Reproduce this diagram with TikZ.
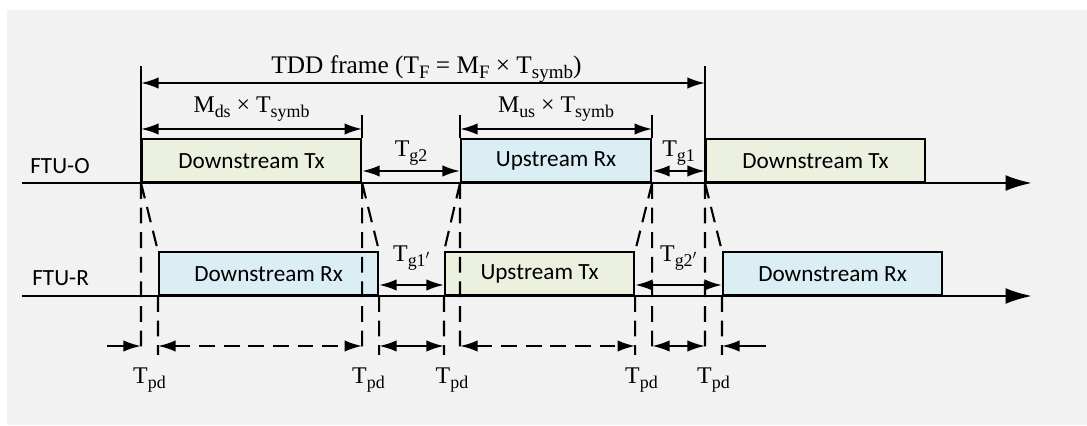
\documentclass[tikz,border=0pt]{standalone}
\usepackage{fontspec}
\setmainfont{Liberation Serif}
\newfontfamily\slotfont{Carlito}
\usepackage{tikz}
\usetikzlibrary{arrows.meta,positioning,calc}
\definecolor{PanelGray}{HTML}{F2F2F2}
\definecolor{TxGreen}{HTML}{EBF1DE}
\definecolor{RxBlue}{HTML}{DAEEF3}
\newcommand{\lo}[1]{\raisebox{-0.42ex}{\scalebox{0.75}{#1}}}

\begin{document}
\begin{tikzpicture}[x=2mm,y=2mm,
  >={Latex[length=10pt,width=6.5pt]},
  slot/.style={draw,line width=1.2pt,anchor=south west,inner sep=0pt,
    minimum height=8.5mm,font=\slotfont\fontsize{13.2}{15}\selectfont},
  txslot/.style={slot,fill=TxGreen},
  rxslot/.style={slot,fill=RxBlue},
  timeline/.style={line width=1.4pt,-{Latex[length=15pt,width=9pt]}},
  dim/.style={<->,line width=1.2pt},
  dimdash/.style={dim,dash pattern=on 9pt off 5pt},
  drop/.style={line width=1.2pt,dash pattern=on 9pt off 5pt},
  lbl/.style={font=\fontsize{13.6}{15}\selectfont,inner sep=0pt,anchor=base},
  framelbl/.style={lbl,font=\fontsize{14.4}{16}\selectfont},
  axisname/.style={font=\slotfont\fontsize{13.2}{15}\selectfont,inner sep=0pt,anchor=base west}]
  \useasboundingbox (0,0) rectangle (108.7,42.6);
  \fill[PanelGray] (0.7,0.1) rectangle (108.7,41.6);

  % rows of the dimension arrows
  \coordinate (rowF) at (0,34.3);
  \coordinate (rowM) at (0,29.7);
  \coordinate (rowGO) at (0,25.5);
  \coordinate (rowGR) at (0,14.1);
  \coordinate (rowPd) at (0,8.0);
  \coordinate (rowDrop) at (0,7.1);

  % FTU-O slots
  \node[txslot,minimum width=43.8mm] (dtxO) at (14.1,24.3) {Downstream Tx};
  \node[rxslot,minimum width=38mm] (urxO) at (46.0,24.3) {Upstream Rx};
  \node[txslot,minimum width=43.8mm] (dtxOb) at (70.5,24.3) {Downstream Tx};
  % FTU-R slots
  \node[rxslot,minimum width=43.8mm] (drxR) at (15.8,13.0) {Downstream Rx};
  \node[txslot,minimum width=37.8mm] (utxR) at (44.4,13.0) {Upstream Tx};
  \node[rxslot,minimum width=43.8mm] (drxRb) at (72.2,13.0) {Downstream Rx};

  \coordinate (oStart) at (2.2,24.3);
  \coordinate (oEnd) at (103.2,24.3);
  \coordinate (rStart) at (2.2,13.0);
  \coordinate (rEnd) at (103.2,13.0);
  \draw[timeline] (oStart) -- (oEnd);
  \draw[timeline] (rStart) -- (rEnd);
  \node[axisname] (ftuO) at (3.0,25.2) {FTU-O};
  \node[axisname] (ftuR) at (3.2,14.0) {FTU-R};

  % frame limits and slot ticks
  \coordinate (frameL) at (14.1,36.0);
  \coordinate (frameR) at (70.5,36.0);
  \draw[line width=1.2pt] (dtxO.south west) -- (frameL);
  \draw[line width=1.2pt] (dtxOb.south west) -- (frameR);
  \draw[line width=1.2pt] (dtxO.north east) -- ++(0,2.3)
    (urxO.north west) -- ++(0,2.3) (urxO.north east) -- ++(0,2.3);

  \draw[dim] (frameL |- rowF) -- (frameR |- rowF)
    node[framelbl,midway,xshift=0.7mm,yshift=1.8mm] (frameLbl) {TDD frame (T\lo{F} = M\lo{F} × T\lo{symb})};
  \draw[dim] (dtxO.north west |- rowM) -- (dtxO.north east |- rowM)
    node[lbl,midway,yshift=3.2mm] (mdsLbl) {M\lo{ds} × T\lo{symb}};
  \draw[dim] (urxO.north west |- rowM) -- (urxO.north east |- rowM)
    node[lbl,midway,yshift=3.2mm] (musLbl) {M\lo{us} × T\lo{symb}};
  \draw[dim] (dtxO.south east |- rowGO) -- (urxO.south west |- rowGO)
    node[lbl,midway,yshift=2.8mm] (tgTwoLbl) {T\lo{g2}};
  \draw[dim] (urxO.south east |- rowGO) -- (dtxOb.south west |- rowGO)
    node[lbl,midway,yshift=2.8mm] (tgOneLbl) {T\lo{g1}};
  \draw[dim] (drxR.south east |- rowGR) -- (utxR.south west |- rowGR)
    node[lbl,midway,yshift=4.6mm] (tgOnepLbl) {T\lo{g1$'$}};
  \draw[dim] (utxR.south east |- rowGR) -- (drxRb.south west |- rowGR)
    node[lbl,midway,yshift=4.6mm] (tgTwopLbl) {T\lo{g2$'$}};

  % propagation delay lines
  \draw[drop] (dtxO.south west) -- (dtxO.south west |- rowDrop)
    (dtxO.south west) -- (drxR.north west)
    (drxR.south west) -- (drxR.south west |- rowDrop);
  \draw[drop] (dtxO.south east) -- (dtxO.south east |- rowDrop)
    (dtxO.south east) -- (drxR.north east)
    (drxR.south east) -- (drxR.south east |- rowDrop);
  \draw[drop] (urxO.south west) -- (urxO.south west |- rowDrop)
    (urxO.south west) -- (utxR.north west)
    (utxR.south west) -- (utxR.south west |- rowDrop);
  \draw[drop] (urxO.south east) -- (urxO.south east |- rowDrop)
    (urxO.south east) -- (utxR.north east)
    (utxR.south east) -- (utxR.south east |- rowDrop);
  \draw[drop] (dtxOb.south west) -- (dtxOb.south west |- rowDrop)
    (dtxOb.south west) -- (drxRb.north west)
    (drxRb.south west) -- (drxRb.south west |- rowDrop);

  \coordinate (pdIn) at (10.7,8.0);
  \coordinate (pdOut) at (76.6,8.0);
  \draw[dim,->] (pdIn) -- (dtxO.south west |- rowPd);
  \draw[dimdash] (drxR.south west |- rowPd) -- (dtxO.south east |- rowPd);
  \draw[dim] (drxR.south east |- rowPd) -- (utxR.south west |- rowPd);
  \draw[dimdash] (urxO.south west |- rowPd) -- (utxR.south east |- rowPd);
  \draw[dim] (urxO.south east |- rowPd) -- (dtxOb.south west |- rowPd);
  \draw[dim,<-] (drxRb.south west |- rowPd) -- (pdOut);

  \node[lbl] (tpdA) at (14.95,4.2) {T\lo{pd}};
  \node[lbl] (tpdB) at (36.85,4.2) {T\lo{pd}};
  \node[lbl] (tpdC) at (45.2,4.2) {T\lo{pd}};
  \node[lbl] (tpdD) at (64.15,4.2) {T\lo{pd}};
  \node[lbl] (tpdE) at (71.35,4.2) {T\lo{pd}};
\end{tikzpicture}
\end{document}
